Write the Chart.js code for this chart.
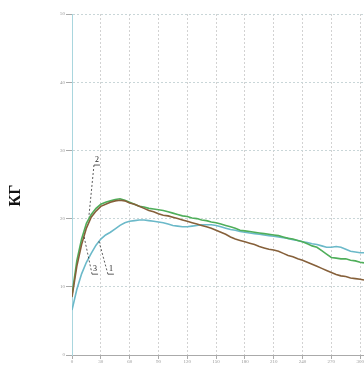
<!DOCTYPE html>
<html lang="ru">
<head>
<meta charset="UTF-8">
<title>КГ</title>
<script src="https://cdn.jsdelivr.net/npm/chart.js"></script>
<style>
    html, body { margin: 0; padding: 0; background: #fff; }
    #wrap { width: 364px; height: 367px; }
</style>
</head>
<body>
<div id="wrap"><canvas id="chart"></canvas></div>
<script>
const xValues = [0, 5, 10, 15, 20, 25, 30, 35, 40, 45, 50, 55, 60, 65, 70, 75, 80, 85, 90, 95,
    100, 105, 110, 115, 120, 125, 130, 135, 140, 145, 150, 155, 160, 165, 170, 175, 180, 185, 190, 195,
    200, 205, 210, 215, 220, 225, 230, 235, 240, 245, 250, 255, 260, 265, 270, 275, 280, 285, 290, 295,
    300, 304];

// curve 1 - brown
const series1 = [8.5, 13.0, 16.2, 18.6, 20.2, 21.1, 21.8, 22.1, 22.4, 22.6, 22.7, 22.6, 22.3, 22.1, 21.8, 21.5, 21.2, 21.0, 20.7, 20.5,
    20.4, 20.2, 20.0, 19.8, 19.6, 19.4, 19.2, 19.0, 18.8, 18.6, 18.3, 18.0, 17.7, 17.3, 17.0, 16.8, 16.6, 16.4, 16.2, 15.9,
    15.7, 15.5, 15.4, 15.2, 14.9, 14.6, 14.4, 14.1, 13.9, 13.6, 13.3, 13.0, 12.7, 12.4, 12.1, 11.8, 11.6, 11.5, 11.3, 11.2,
    11.1, 11.0];
// curve 2 - green
const series2 = [8.8, 13.8, 17.0, 19.3, 20.6, 21.5, 22.1, 22.4, 22.6, 22.8, 22.9, 22.7, 22.4, 22.1, 21.8, 21.7, 21.5, 21.4, 21.3, 21.2,
    21.0, 20.8, 20.6, 20.4, 20.3, 20.1, 20.0, 19.8, 19.7, 19.5, 19.4, 19.2, 19.0, 18.8, 18.6, 18.3, 18.2, 18.1, 18.0, 17.9,
    17.8, 17.7, 17.6, 17.5, 17.3, 17.1, 17.0, 16.8, 16.6, 16.3, 16.0, 15.8, 15.3, 14.8, 14.3, 14.2, 14.1, 14.1, 13.9, 13.8,
    13.6, 13.5];
// curve 3 - teal
const series3 = [6.6, 9.6, 11.9, 13.6, 14.9, 16.1, 17.0, 17.6, 18.0, 18.5, 19.0, 19.4, 19.6, 19.7, 19.8, 19.8, 19.7, 19.6, 19.5, 19.4,
    19.2, 19.0, 18.9, 18.8, 18.8, 18.9, 19.0, 19.1, 19.1, 19.1, 19.0, 18.8, 18.6, 18.4, 18.3, 18.1, 18.0, 17.9, 17.8, 17.7,
    17.6, 17.5, 17.4, 17.3, 17.2, 17.1, 16.9, 16.8, 16.6, 16.5, 16.3, 16.2, 16.0, 15.8, 15.8, 15.9, 15.8, 15.5, 15.2, 15.1,
    15.0, 15.0];

const yStep = 10;
const xStep = 30;

// curve labels: text, label position, point on the curve
const labelNames = ['2', '3', '1'];
const labelX = [26, 24, 40.5];
const labelY = [28.0, 12.0, 12.0];
const targetX = [17.5, 12.5, 28];
const targetY = [20.2, 17.4, 16.7];

const toPoints = ys => xValues.map((x, i) => ({ x: x, y: ys[i] }));

const curveLabels = {
    id: 'curveLabels',
    afterDatasetsDraw(chart) {
        const { ctx, scales: { x, y } } = chart;
        ctx.save();
        ctx.font = '8px "Liberation Serif"';
        ctx.textAlign = 'center';
        ctx.textBaseline = 'bottom';
        labelNames.forEach((t, i) => {
            const lx = x.getPixelForValue(labelX[i]);
            const ly = y.getPixelForValue(labelY[i]);
            const tx = x.getPixelForValue(targetX[i]);
            const ty = y.getPixelForValue(targetY[i]);
            ctx.fillStyle = '#222';
            ctx.fillText(t, lx, ly);
            ctx.strokeStyle = '#333';
            ctx.lineWidth = 0.8;
            ctx.setLineDash([]);
            ctx.beginPath();
            ctx.moveTo(lx - 3, ly + 1);
            ctx.lineTo(lx + 3, ly + 1);
            ctx.stroke();
            ctx.setLineDash([2, 2]);
            ctx.beginPath();
            ctx.moveTo(lx - 3, ly + 1);
            ctx.lineTo(tx, ty);
            ctx.stroke();
        });
        ctx.restore();
    }
};

const yTitle = {
    id: 'yTitle',
    afterDraw(chart) {
        const { ctx, chartArea } = chart;
        ctx.save();
        ctx.translate(16, (chartArea.top + chartArea.bottom) / 2 + 11);
        ctx.rotate(-Math.PI / 2);
        ctx.font = 'bold 16px "Liberation Serif"';
        ctx.fillStyle = '#111';
        ctx.textAlign = 'center';
        ctx.textBaseline = 'middle';
        ctx.fillText('КГ', 0, 0);
        ctx.restore();
    }
};

new Chart(document.getElementById('chart'), {
    type: 'line',
    data: {
        datasets: [
            { label: '1', data: toPoints(series1), borderColor: '#86603a', borderWidth: 1.6 },
            { label: '2', data: toPoints(series2), borderColor: '#4fae5a', borderWidth: 1.6 },
            { label: '3', data: toPoints(series3), borderColor: '#6bb9c9', borderWidth: 1.6 }
        ]
    },
    options: {
        responsive: true,
        maintainAspectRatio: false,
        animation: false,
        layout: { padding: { top: 14, right: 0, left: 0, bottom: 0 } },
        elements: { point: { radius: 0 }, line: { tension: 0 } },
        plugins: { legend: { display: false }, tooltip: { enabled: false } },
        scales: {
            x: {
                type: 'linear',
                min: 0,
                max: 304,
                afterFit: s => { s.height = 12; s.paddingLeft = 0; s.paddingRight = 0; },
                ticks: { stepSize: xStep, includeBounds: false, autoSkip: false,
                    font: { size: 5, family: 'Liberation Serif' }, color: '#999', padding: 0, maxRotation: 0 },
                grid: { color: '#d2d2d2', tickLength: 4, tickColor: '#aaa' },
                border: { color: '#aaa', width: 1, dash: [2, 2] }
            },
            y: {
                min: 0,
                max: 50,
                afterFit: s => { s.width = 72; },
                ticks: { stepSize: yStep, font: { size: 5, family: 'Liberation Serif' }, color: '#999', padding: 1 },
                grid: { color: '#c9d6d8', tickLength: 6, tickColor: '#aaa' },
                border: { color: '#a9d6de', width: 1, dash: [2, 2] }
            }
        }
    },
    plugins: [curveLabels, yTitle]
});
</script>
</body>
</html>
